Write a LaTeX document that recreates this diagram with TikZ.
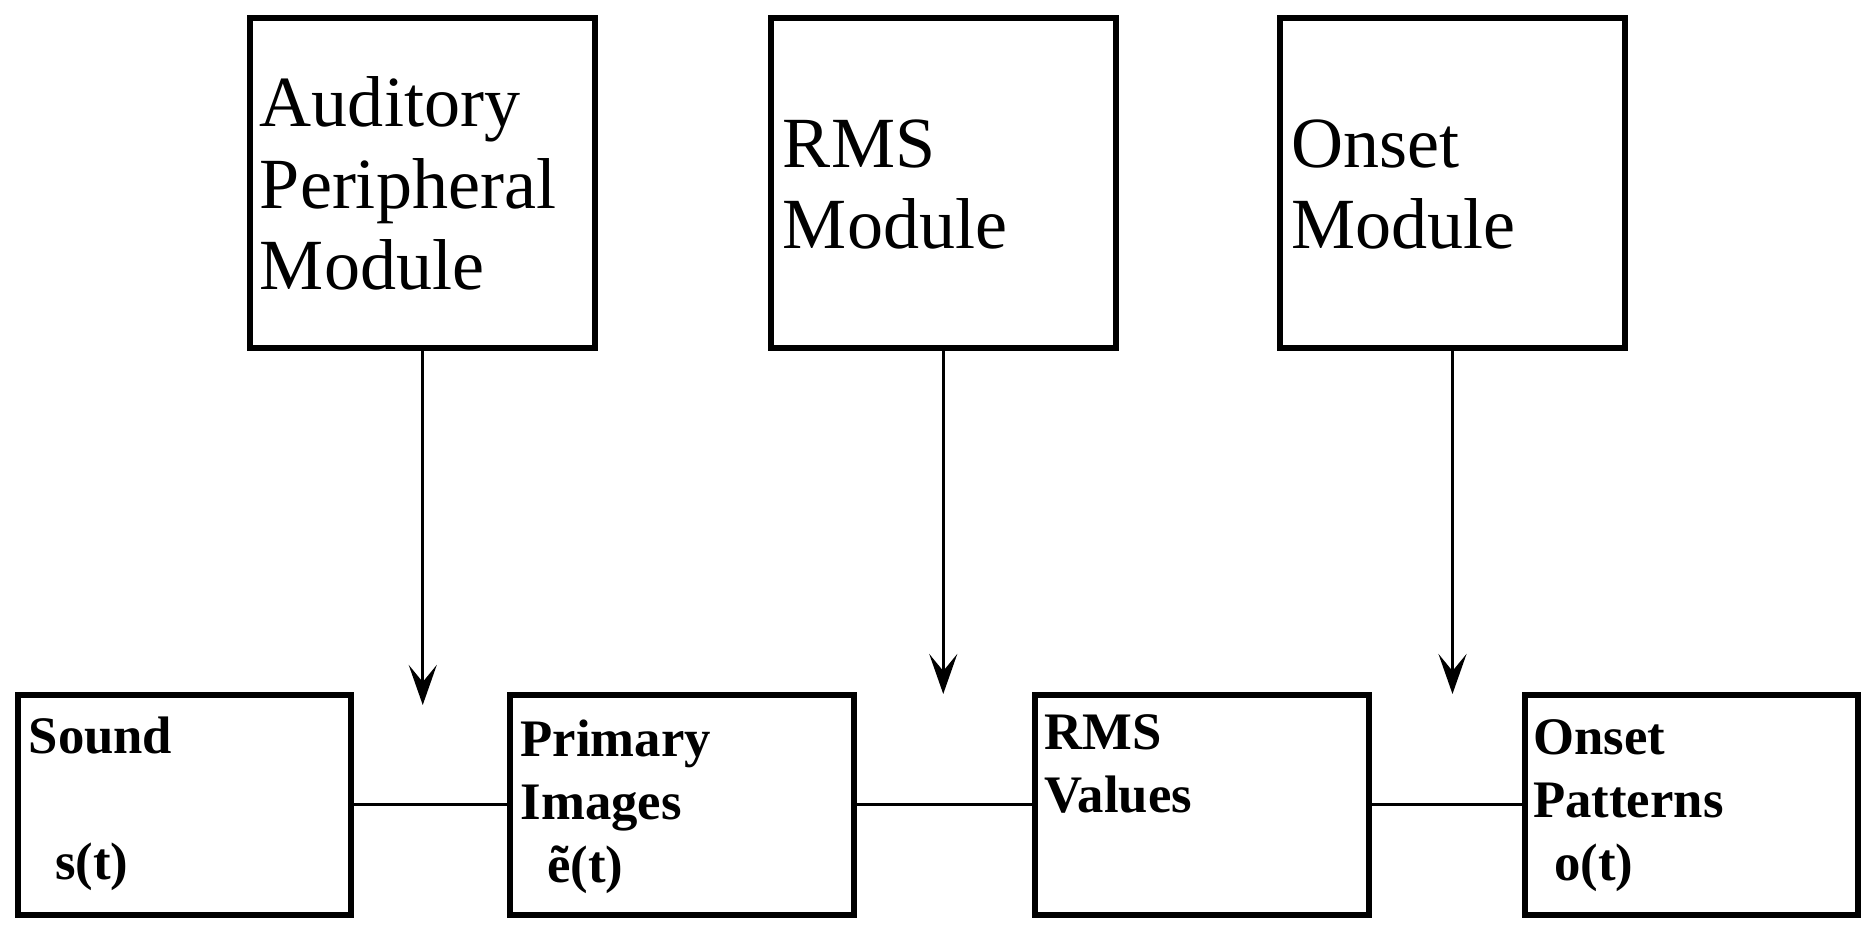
\documentclass[tikz,border=0pt]{standalone}
\usepackage{fontspec}
\setmainfont{Liberation Serif}
\usetikzlibrary{positioning, arrows.meta, calc}

\begin{document}
\begin{tikzpicture}[
    module/.style={draw, rectangle, line width=0.06cm, minimum width=3.45cm, minimum height=3.3cm, inner sep=0pt, outer sep=0pt},
    signal/.style={draw, rectangle, line width=0.06cm, minimum height=2.2cm, inner sep=0pt, outer sep=0pt},
    modtext/.style={anchor=base west, inner sep=0pt, align=left, font=\fontsize{20.5}{23.3}\selectfont},
    sigtext/.style={anchor=base west, inner sep=0pt, align=left, font=\fontsize{15}{18}\selectfont\bfseries},
    feed/.style={line width=0.03cm, -{Stealth[length=4mm, width=2.8mm, inset=1.7mm]}},
    link/.style={line width=0.03cm}
]
    \useasboundingbox (0,0) rectangle (18.75,9.33);

    % ===============================
    % 1. MODULES (top row)
    % ===============================
    \node[module] (ap) at (4.2275, 7.5) {};
    \node[module] (rms) at (9.4325, 7.5) {};
    \node[module] (ons) at (14.525, 7.5) {};

    % labels are anchored at the baseline of their last line
    \node[modtext] (aplbl) at ($(ap.north west)+(0.09,-2.72)$) {Auditory\\Peripheral\\Module};
    \node[modtext] (rmslbl) at ($(rms.north west)+(0.115,-2.31)$) {RMS\\Module};
    \node[modtext] (onslbl) at ($(ons.north west)+(0.11,-2.31)$) {Onset\\Module};

    % ===============================
    % 2. SIGNALS (bottom row)
    % ===============================
    \node[signal, minimum width=3.33cm] (sound) at (1.845, 1.28) {};
    \node[signal, minimum width=3.445cm] (prim) at (6.8175, 1.28) {};
    \node[signal, minimum width=3.34cm] (rmsval) at (12.02, 1.28) {};
    \node[signal, minimum width=3.335cm] (onspat) at (16.9125, 1.28) {};

    \node[sigtext] (soundlbl) at ($(sound.north west)+(0.10,-1.85)$) {Sound\\\mbox{}\\\hspace*{7.5pt}s(t)};
    \node[sigtext] (primlbl) at ($(prim.north west)+(0.105,-1.88)$) {Primary\\Images\\\hspace*{7.5pt}ẽ(t)};
    \node[sigtext] (rmsvallbl) at ($(rmsval.north west)+(0.09,-1.18)$) {RMS\\Values};
    \node[sigtext] (onspatlbl) at ($(onspat.north west)+(0.08,-1.86)$) {Onset\\Patterns\\\hspace*{6pt}o(t)};

    % ===============================
    % 3. CONNECTIONS
    % ===============================

    % A. modules feed down between the signals
    \coordinate (aptip) at (ap.south |- 0,2.28);
    \coordinate (rmstip) at (rms.south |- 0,2.39);
    \coordinate (onstip) at (ons.south |- 0,2.39);
    \draw[feed] (ap.south) -- (aptip);
    \draw[feed] (rms.south) -- (rmstip);
    \draw[feed] (ons.south) -- (onstip);

    % B. signal chain
    \draw[link] (sound.east) -- (prim.west);
    \draw[link] (prim.east) -- (rmsval.west);
    \draw[link] (rmsval.east) -- (onspat.west);

\end{tikzpicture}
\end{document}
